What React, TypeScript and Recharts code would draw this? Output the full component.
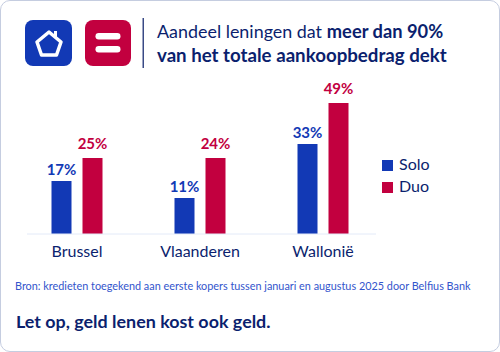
import { BarChart, Bar, XAxis, YAxis, Legend, LabelList } from "recharts";

const regions = ["Brussel", "Vlaanderen", "Wallonië"];
// printed percentages
const soloLabels = ["17%", "11%", "33%"];
const duoLabels = ["25%", "24%", "49%"];
// bar lengths as drawn in the picture (the bars are not exactly to scale with the printed numbers)
const soloBars = [19.3, 13.1, 32.7];
const duoBars = [27.6, 27.6, 47.6];

const data = regions.map((region, i) => ({
  region,
  Solo: soloBars[i],
  Duo: duoBars[i],
  soloLabel: soloLabels[i],
  duoLabel: duoLabels[i],
}));

const BLUE = "#1239b5";
const RED = "#c2003f";
const NAVY = "#0b1f6e";
const FONT = "Lato, sans-serif";

function Logos() {
  return (
    <svg width={150} height={80} style={{ position: "absolute", left: 0, top: 0 }}>
      <rect x={25} y={20} width={47} height={46} rx={8} fill={BLUE} />
      <path d="M49 32 L61 42 L56.5 55 L41.5 55 L37 42 Z" fill="none" stroke="#fff" strokeWidth={3.5} strokeLinejoin="round" />
      <rect x={54} y={31} width={3} height={6} fill="#fff" />
      <rect x={85} y={20} width={46} height={46} rx={8} fill={RED} />
      <rect x={95.5} y={33} width={25} height={6.5} rx={3.2} fill="#fff" />
      <rect x={95.5} y={46} width={25} height={6.5} rx={3.2} fill="#fff" />
      <rect x={142.5} y={18} width={1.5} height={50} fill="#3a4a86" />
    </svg>
  );
}

export default function App() {
  return (
    <div
      style={{
        position: "absolute",
        left: 0,
        top: 0,
        width: 500,
        height: 352,
        boxSizing: "border-box",
        border: "1px solid #c5cde0",
        borderRadius: 10,
        background: "#fff",
        overflow: "hidden",
        fontFamily: FONT,
      }}
    >
      <div style={{ position: "absolute", left: -1, top: -1, width: 500, height: 352 }}>
        <BarChart
          width={500}
          height={352}
          data={data}
          barSize={20}
          barGap={11}
          margin={{ top: 96.5, right: 34, bottom: 88, left: 27 }}
        >
          <XAxis
            dataKey="region"
            height={30}
            padding={{ left: -11.5, right: -8.5 }}
            axisLine={{ stroke: "#e3eaf8" }}
            tickLine={false}
            tick={{ fontSize: 16, fill: NAVY, fontFamily: FONT }}
            tickMargin={6}
            interval={0}
          />
          <YAxis hide domain={[0, 50]} />
          <Legend
            layout="vertical"
            align="right"
            verticalAlign="middle"
            iconType="square"
            iconSize={11}
            itemSorter={null}
            width={90}
            wrapperStyle={{ left: 382, top: 153, right: "auto", bottom: "auto", fontSize: 16, lineHeight: "22px" }}
            formatter={(v: string) => <span style={{ color: NAVY, marginLeft: 2 }}>{v}</span>}
          />
          <Bar dataKey="Solo" fill={BLUE} isAnimationActive={false}>
            <LabelList dataKey="soloLabel" position="top" fill={BLUE} fontSize={15} fontWeight={700} fontFamily={FONT} offset={6} />
          </Bar>
          <Bar dataKey="Duo" fill={RED} isAnimationActive={false}>
            <LabelList dataKey="duoLabel" position="top" fill={RED} fontSize={15} fontWeight={700} fontFamily={FONT} offset={9} />
          </Bar>
        </BarChart>
        <Logos />
        <div style={{ position: "absolute", left: 157, top: 19, fontSize: 18.7, lineHeight: "24px", color: NAVY, whiteSpace: "nowrap" }}>
          <span style={{ fontSize: 17.9 }}>Aandeel leningen dat</span> <b style={{ fontSize: 18.3 }}>meer dan 90%</b>
          <br />
          <b>van het totale aankoopbedrag dekt</b>
        </div>
        <div style={{ position: "absolute", left: 15, top: 278, fontSize: 10.85, lineHeight: "16px", color: "#3355cc", whiteSpace: "nowrap" }}>
          Bron: kredieten toegekend aan eerste kopers tussen januari en augustus 2025 door Belfius Bank
        </div>
        <div style={{ position: "absolute", left: 16, top: 309, fontSize: 17.9, lineHeight: "24px", fontWeight: 700, color: NAVY, whiteSpace: "nowrap" }}>
          Let op, geld lenen kost ook geld.
        </div>
      </div>
    </div>
  );
}
